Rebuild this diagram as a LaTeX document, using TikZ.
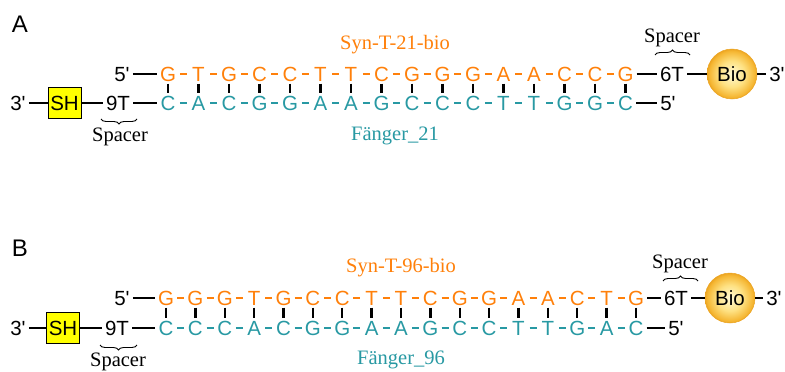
\documentclass[tikz,border=0pt]{standalone}
\usepackage{fontspec}
\setmainfont{Liberation Serif}
\newfontfamily\arial{Liberation Sans}
\usetikzlibrary{decorations.pathreplacing}
\definecolor{seqorange}{RGB}{255,128,10}
\definecolor{seqteal}{RGB}{40,153,163}
\definecolor{shyellow}{RGB}{255,255,0}
\definecolor{ballin}{RGB}{255,250,215}
\definecolor{ballmid}{RGB}{254,225,130}
\definecolor{ballout}{RGB}{245,182,50}
\definecolor{ballrim}{RGB}{236,165,35}
\pgfdeclareradialshading{bioball}{\pgfpoint{0bp}{0bp}}{color(0bp)=(ballin); color(13bp)=(ballmid); color(23bp)=(ballout); color(25bp)=(ballrim); color(50bp)=(ballrim)}
\begin{document}
\begin{tikzpicture}[x=1pt,y=-1pt,
  seq/.style={font=\arial\fontsize{20.5}{20.5}\selectfont, text height=14.7pt, text depth=0pt, inner ysep=0pt, inner xsep=3pt},
  topb/.style={seq, text=seqorange},
  botb/.style={seq, text=seqteal},
  lbl/.style={seq, text=black},
  plabel/.style={font=\arial\fontsize{24}{24}\selectfont, text height=17pt, text depth=0pt, inner sep=0pt},
  serif/.style={font=\fontsize{20.5}{20.5}\selectfont, text height=13.5pt, text depth=0pt, inner sep=0pt},
  shbox/.style={seq, draw=black, line width=1pt, fill=shyellow, minimum width=33pt, minimum height=31pt, inner xsep=0pt},
  bioball/.style={seq, circle, minimum size=50pt, inner sep=0pt, shading=bioball, shade, draw=ballrim, line width=0.5pt},
  conn/.style={line width=2.4pt, black},
  dashA/.style={line width=2.4pt, shorten <=11.75pt, shorten >=11.75pt},
  dashB/.style={line width=2.4pt, shorten <=11.2pt, shorten >=11.2pt},
  bp/.style={line width=2.4pt, black, shorten <=9.5pt, shorten >=10.5pt},
  spbrace/.style={line width=0.9pt, black, decorate, decoration={brace, amplitude=5pt}}
]
\useasboundingbox (0,0) rectangle (785,372);

% ---------------- Panel A ----------------
\node[plabel] (lblA) at (20,24) {A};
\node[serif, text=seqorange] (synA) at (395,43) {Syn-T-21-bio};
\node[serif, text=seqteal] (fanA) at (395,134) {Fänger\_21};
\node[lbl] (a5l) at (122,74) {5'};
\node[lbl] (a3l) at (18,103) {3'};
\node[shbox] (ash) at (64.5,103) {SH};
\node[lbl] (a9t) at (118,103) {9T};
\foreach \L [count=\i] in {G,T,G,C,C,T,T,C,G,G,G,A,A,C,C,G}
  \node[topb] (at\i) at ({168+30.5*(\i-1)},74) {\L};
\foreach \L [count=\i] in {C,A,C,G,G,A,A,G,C,C,C,T,T,G,G,C}
  \node[botb] (ab\i) at ({168+30.5*(\i-1)},103) {\L};
\node[lbl] (a6t) at (672,74) {6T};
\node[bioball] (abio) at (732,74) {Bio};
\node[lbl] (a3r) at (777,74) {3'};
\node[lbl] (a5r) at (668,103) {5'};
\node[serif] (asp1) at (120,135) {Spacer};
\node[serif] (asp2) at (672,36) {Spacer};
\coordinate (abr1a) at (137,119);
\coordinate (abr1b) at (101,119);
\coordinate (abr2a) at (655,55);
\coordinate (abr2b) at (690,55);

\foreach \i [evaluate=\i as \j using int(\i+1)] in {1,...,15}{
  \draw[dashA, seqorange] (at\i.center) -- (at\j.center);
  \draw[dashA, seqteal] (ab\i.center) -- (ab\j.center);
}
\foreach \i in {1,...,16}
  \draw[bp] (at\i.center) -- (ab\i.center);
\draw[conn] (a5l) -- (at1);
\draw[conn] (a3l) -- (ash);
\draw[conn] (ash) -- (a9t);
\draw[conn] (a9t) -- (ab1);
\draw[conn] (at16) -- (a6t);
\draw[conn] (a6t) -- (abio);
\draw[conn] (abio) -- (a3r);
\draw[conn] (ab16) -- (a5r);
\draw[spbrace] (abr1a) -- (abr1b);
\draw[spbrace] (abr2a) -- (abr2b);

% ---------------- Panel B ----------------
\node[plabel] (lblB) at (20,248) {B};
\node[serif, text=seqorange] (synB) at (401,266) {Syn-T-96-bio};
\node[serif, text=seqteal] (fanB) at (401,358) {Fänger\_96};
\node[lbl] (b5l) at (122,298) {5'};
\node[lbl] (b3l) at (18,328) {3'};
\node[shbox] (bsh) at (63,328) {SH};
\node[lbl] (b9t) at (117,328) {9T};
\foreach \L [count=\i] in {G,G,G,T,G,C,C,T,T,C,G,G,A,A,C,T,G}
  \node[topb] (bt\i) at ({166+29.375*(\i-1)},298) {\L};
\foreach \L [count=\i] in {C,C,C,A,C,G,G,A,A,G,C,C,T,T,G,A,C}
  \node[botb] (bb\i) at ({166+29.375*(\i-1)},328) {\L};
\node[lbl] (b6t) at (676,298) {6T};
\node[bioball] (bbio) at (730,298) {Bio};
\node[lbl] (b3r) at (774,298) {3'};
\node[lbl] (b5r) at (676,328) {5'};
\node[serif] (bsp1) at (118,360) {Spacer};
\node[serif] (bsp2) at (680,262) {Spacer};
\coordinate (bbr1a) at (137,345);
\coordinate (bbr1b) at (100,345);
\coordinate (bbr2a) at (663,281);
\coordinate (bbr2b) at (698,281);

\foreach \i [evaluate=\i as \j using int(\i+1)] in {1,...,16}{
  \draw[dashB, seqorange] (bt\i.center) -- (bt\j.center);
  \draw[dashB, seqteal] (bb\i.center) -- (bb\j.center);
}
\foreach \i in {1,...,17}
  \draw[bp] (bt\i.center) -- (bb\i.center);
\draw[conn] (b5l) -- (bt1);
\draw[conn] (b3l) -- (bsh);
\draw[conn] (bsh) -- (b9t);
\draw[conn] (b9t) -- (bb1);
\draw[conn] (bt17) -- (b6t);
\draw[conn] (b6t) -- (bbio);
\draw[conn] (bbio) -- (b3r);
\draw[conn] (bb17) -- (b5r);
\draw[spbrace] (bbr1a) -- (bbr1b);
\draw[spbrace] (bbr2a) -- (bbr2b);
\end{tikzpicture}
\end{document}
